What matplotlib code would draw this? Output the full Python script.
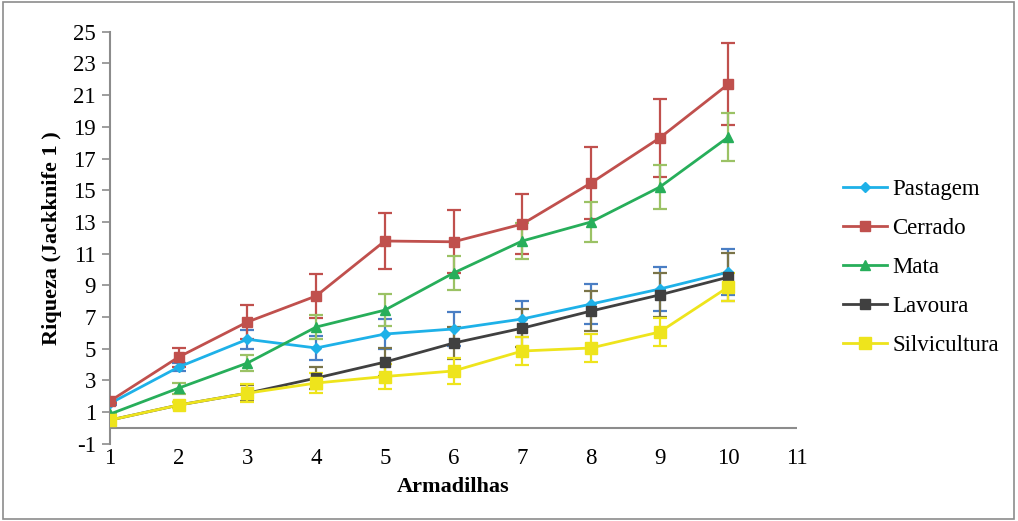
import matplotlib
matplotlib.use("Agg")
import matplotlib.pyplot as plt
from matplotlib.patches import Rectangle

plt.rcParams['font.family'] = ['Liberation Serif', 'DejaVu Serif']
plt.rcParams['axes.unicode_minus'] = False

armadilhas = [1, 2, 3, 4, 5, 6, 7, 8, 9, 10]

pastagem = [1.55, 3.85, 5.6, 5.05, 5.93, 6.25, 6.88, 7.82, 8.77, 9.84]
pastagem_err = [0.1, 0.25, 0.6, 0.75, 0.95, 1.05, 1.15, 1.27, 1.37, 1.45]

cerrado = [1.7, 4.48, 6.69, 8.33, 11.8, 11.75, 12.87, 15.46, 18.3, 21.7]
cerrado_err = [0.1, 0.6, 1.1, 1.4, 1.75, 2.0, 1.9, 2.25, 2.48, 2.6]

mata = [0.88, 2.52, 4.1, 6.37, 7.44, 9.78, 11.8, 13.0, 15.2, 18.36]
mata_err = [0.1, 0.35, 0.5, 0.75, 1.0, 1.1, 1.13, 1.25, 1.4, 1.5]

lavoura = [0.5, 1.45, 2.2, 3.15, 4.16, 5.36, 6.3, 7.38, 8.4, 9.52]
lavoura_err = [0.1, 0.2, 0.5, 0.7, 0.9, 1.0, 1.2, 1.25, 1.4, 1.5]

silvicultura = [0.5, 1.45, 2.2, 2.84, 3.25, 3.6, 4.86, 5.05, 6.06, 8.9]
silvicultura_err = [0.1, 0.2, 0.57, 0.63, 0.8, 0.85, 0.9, 0.9, 0.9, 0.9]

series = [
    ("Pastagem", pastagem, pastagem_err, "#1EB1E8", "#4A7EC4", "D", 5),
    ("Cerrado", cerrado, cerrado_err, "#C0504D", "#C0504D", "s", 7),
    ("Mata", mata, mata_err, "#27AE5A", "#9BC265", "^", 7),
    ("Lavoura", lavoura, lavoura_err, "#404040", "#7A7448", "s", 7),
    ("Silvicultura", silvicultura, silvicultura_err, "#EEE41C", "#EEE41C", "s", 8),
]

fig = plt.figure(figsize=(10.18, 5.21), dpi=100)
ax = fig.add_axes([0.108, 0.148, 0.675, 0.791])

for nome, vals, err, cor, cor_err, mk, ms in series:
    ax.errorbar(armadilhas, vals, yerr=err, fmt="none", ecolor=cor_err,
                elinewidth=1.6, capsize=5, capthick=1.6, zorder=2)
    ax.plot(armadilhas, vals, color=cor, marker=mk, markersize=ms,
            linewidth=2, label=nome, zorder=3)

ax.set_xlim(1, 11)
ax.set_ylim(-1, 25)
ax.set_yticks(range(-1, 26, 2))
ax.set_xticks(range(1, 12))
ax.tick_params(axis='x', length=0, labelsize=16.5, pad=3)
ax.tick_params(axis='y', length=6, width=1.2, color="#8C8C8C", labelsize=16.5, pad=4)

for s in ["top", "right", "bottom"]:
    ax.spines[s].set_visible(False)
ax.spines["left"].set_color("#8C8C8C")
ax.spines["left"].set_linewidth(1.5)
ax.axhline(0, color="#8C8C8C", linewidth=1.5, zorder=1)

ax.set_xlabel("Armadilhas", fontsize=16, fontweight="bold", labelpad=6)
ax.set_ylabel("Riqueza (Jackknife 1 )", fontsize=16, fontweight="bold", labelpad=8)

fig.legend(loc="center left", bbox_to_anchor=(0.808, 0.487), frameon=False,
           fontsize=16.5, handlelength=1.9, handletextpad=0.25, labelspacing=0.78)

fig.add_artist(Rectangle((0.003, 0.004), 0.993, 0.992, transform=fig.transFigure,
                         fill=False, edgecolor="#8C8C8C", linewidth=1.2))

fig.savefig("out.png", dpi=100)
